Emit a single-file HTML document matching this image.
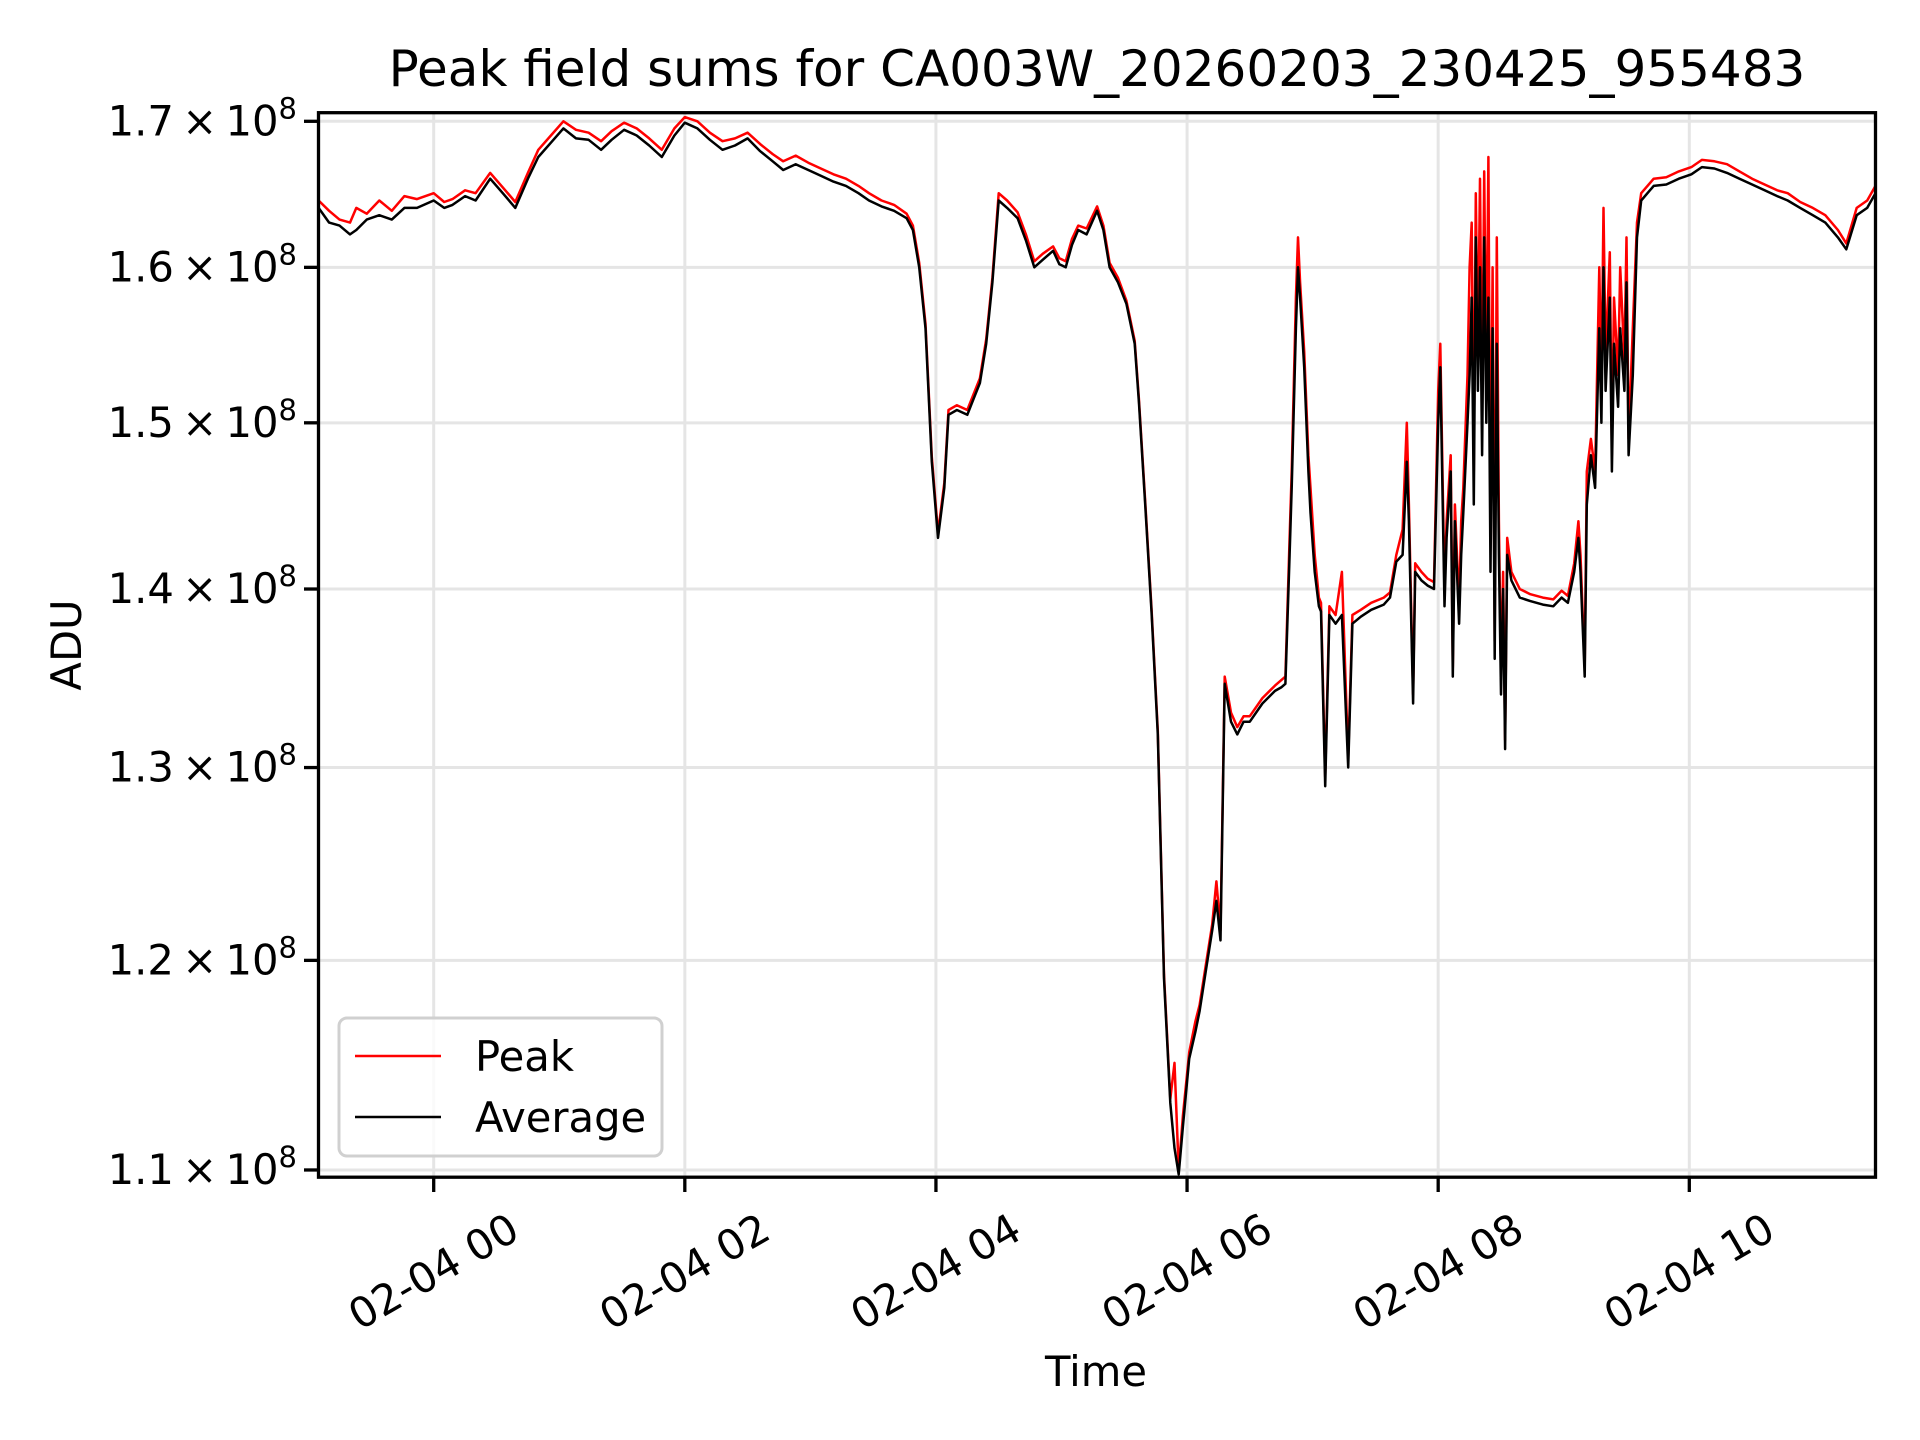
<!DOCTYPE html>
<html><head><meta charset="utf-8"><style>
html,body{margin:0;padding:0;background:#fff;}
svg{display:block;font-family:"DejaVu Sans","Liberation Sans",sans-serif;}
</style></head><body>
<svg id="chart" width="1920" height="1440" viewBox="0 0 1920 1440" xmlns="http://www.w3.org/2000/svg">
<rect width="1920" height="1440" fill="#fff"/>
<defs><clipPath id="plotclip"><rect x="318.5" y="112.7" width="1557" height="1064.5"/></clipPath></defs>
<g id="grid"></g>
<g id="series" clip-path="url(#plotclip)"></g>
<rect x="318.5" y="112.7" width="1557" height="1064.5" fill="none" stroke="#000" stroke-width="3.3"/>
<g id="ticks"></g>
<text x="1097" y="86" font-size="50" text-anchor="middle">Peak field sums for CA003W_20260203_230425_955483</text>
<text x="0" y="0" font-size="41.7" text-anchor="middle" transform="translate(81,645) rotate(-90)">ADU</text>
<text x="1096" y="1386" font-size="41.7" text-anchor="middle">Time</text>
<g>
<rect x="339" y="1018" width="323" height="138" rx="8" fill="#fff" fill-opacity="0.8" stroke="#d0d0d0" stroke-width="3"/>
<line x1="355" y1="1056" x2="441" y2="1056" stroke="#ff0000" stroke-width="2.5"/>
<text x="475" y="1071" font-size="41.7">Peak</text>
<line x1="355" y1="1117" x2="441" y2="1117" stroke="#000" stroke-width="2.5"/>
<text x="475" y="1132" font-size="41.7">Average</text>
</g>
</svg>
<script>
// minutes since 02-04 00:00
const times = [-55,-50,-45,-40,-37,-32,-26,-20,-14,-8,0,5,9,15,20,27,33,39,45,50,56,62,68,74,80,85,91,97,103,109,115,120,126,132,138,144,150,156,162,167,173,179,185,191,197,203,208,214,220,226,229,232,235,238,241,244,246,250,255,258,261,264,267,270,274,279,283,287,291,296,299,302,305,308,312,317,320,323,327,331,335,337,340,343,346,349,352,354,356,358,361,364,366,369,372,374,376,378,381,384,387,390,396,402,405,407,409,410,412,413,414,416,418,419,421,423,424,426,428,431,434,437,439,443,448,454,457,460,463,465,466,468,469,472,475,478,480,481,483,484,486,487,488,490,491,492,494,495,496,497,498,499,500,501,502,503,504,505,506,507,508,509,510,511,512,513,515,519,524,530,535,539,542,545,547,548,550,551,553,555,557,558,559,560,562,563,564,566,567,569,570,571,573,575,577,583,589,595,601,606,612,618,624,630,636,642,647,653,659,665,671,675,680,685,689];
// values in units of 1e8 ADU
const averageValues = [1.640,1.630,1.628,1.622,1.625,1.632,1.635,1.632,1.640,1.640,1.645,1.640,1.642,1.648,1.645,1.660,1.650,1.640,1.660,1.675,1.685,1.695,1.688,1.687,1.680,1.687,1.694,1.690,1.683,1.675,1.690,1.699,1.695,1.687,1.680,1.683,1.688,1.679,1.672,1.666,1.670,1.666,1.662,1.658,1.655,1.650,1.645,1.641,1.638,1.633,1.625,1.600,1.560,1.476,1.430,1.460,1.505,1.508,1.505,1.515,1.525,1.550,1.590,1.645,1.640,1.633,1.618,1.600,1.605,1.611,1.602,1.600,1.615,1.625,1.622,1.638,1.625,1.600,1.590,1.576,1.550,1.513,1.450,1.387,1.318,1.191,1.131,1.110,1.098,1.120,1.152,1.165,1.175,1.195,1.215,1.230,1.210,1.346,1.325,1.318,1.325,1.325,1.335,1.342,1.344,1.346,1.420,1.460,1.560,1.600,1.580,1.535,1.470,1.445,1.410,1.390,1.387,1.290,1.385,1.380,1.385,1.300,1.380,1.384,1.388,1.391,1.395,1.416,1.420,1.476,1.440,1.335,1.410,1.405,1.402,1.400,1.500,1.535,1.390,1.430,1.470,1.350,1.440,1.380,1.420,1.445,1.500,1.530,1.580,1.450,1.620,1.520,1.600,1.480,1.620,1.500,1.580,1.410,1.560,1.360,1.550,1.420,1.340,1.400,1.310,1.420,1.405,1.395,1.393,1.391,1.390,1.395,1.392,1.410,1.430,1.410,1.350,1.450,1.480,1.460,1.560,1.500,1.600,1.520,1.580,1.470,1.550,1.510,1.560,1.520,1.590,1.480,1.530,1.620,1.645,1.655,1.656,1.660,1.663,1.668,1.667,1.664,1.660,1.656,1.652,1.648,1.645,1.640,1.635,1.630,1.620,1.612,1.635,1.640,1.650];
const peakValues = [1.645,1.638,1.632,1.630,1.640,1.636,1.645,1.638,1.648,1.646,1.650,1.644,1.646,1.652,1.650,1.664,1.654,1.644,1.664,1.680,1.690,1.700,1.694,1.692,1.686,1.693,1.699,1.695,1.688,1.680,1.695,1.703,1.700,1.692,1.686,1.688,1.692,1.684,1.677,1.672,1.676,1.671,1.667,1.663,1.660,1.655,1.650,1.645,1.642,1.636,1.628,1.603,1.563,1.479,1.433,1.463,1.508,1.511,1.508,1.518,1.528,1.553,1.593,1.650,1.645,1.637,1.622,1.604,1.609,1.614,1.606,1.604,1.619,1.628,1.626,1.641,1.628,1.603,1.593,1.578,1.552,1.515,1.452,1.389,1.320,1.193,1.133,1.150,1.100,1.125,1.155,1.170,1.178,1.198,1.218,1.240,1.215,1.350,1.330,1.322,1.328,1.328,1.338,1.345,1.348,1.350,1.430,1.470,1.580,1.620,1.590,1.545,1.480,1.460,1.420,1.395,1.392,1.295,1.390,1.385,1.410,1.305,1.385,1.388,1.392,1.395,1.398,1.420,1.435,1.500,1.450,1.340,1.415,1.410,1.406,1.404,1.520,1.550,1.400,1.440,1.480,1.355,1.450,1.390,1.440,1.460,1.530,1.600,1.630,1.470,1.650,1.540,1.660,1.500,1.665,1.520,1.675,1.430,1.600,1.370,1.620,1.440,1.350,1.410,1.315,1.430,1.410,1.400,1.397,1.395,1.394,1.399,1.396,1.415,1.440,1.420,1.355,1.470,1.490,1.470,1.600,1.520,1.640,1.540,1.610,1.480,1.580,1.530,1.600,1.540,1.620,1.490,1.560,1.630,1.650,1.660,1.661,1.665,1.668,1.673,1.672,1.670,1.665,1.660,1.656,1.652,1.650,1.644,1.640,1.635,1.625,1.616,1.640,1.645,1.655];
const yTickValues = [1.1,1.2,1.3,1.4,1.5,1.6,1.7];
const yTickLabels = ["1.1","1.2","1.3","1.4","1.5","1.6","1.7"];
const xTickMinutes = [0,120,240,360,480,600];
const xTickLabels = ["02-04 00","02-04 02","02-04 04","02-04 06","02-04 08","02-04 10"];

const NS = "http://www.w3.org/2000/svg";
function xScale(m){ return 433.7 + m/60*125.56; }
function yScale(v){ return 121.3 - Math.log(v/1.7)*2409; }
function mk(tag, attrs, parent){ const e=document.createElementNS(NS,tag); for(const k in attrs) e.setAttribute(k,attrs[k]); parent.appendChild(e); return e; }

const grid=document.getElementById('grid'), ticks=document.getElementById('ticks'), series=document.getElementById('series');
yTickValues.forEach((v,i)=>{
  const y=yScale(v);
  const g=mk('line',{x1:318.5,x2:1875.5,y1:y,y2:y,stroke:'#e5e5e5','stroke-width':3},grid);
  
  
  const t=mk('line',{x1:304,x2:318.5,y1:y,y2:y,stroke:'#000','stroke-width':3.3},ticks);
  
  
  const tx=mk('text',{x:297,y:y+14,'font-size':41.7,'text-anchor':'end'},ticks);
  
  
  tx.textContent=yTickLabels[i]+"\u2009\u00d7\u200910";
  const sup=mk('tspan',{dy:-17,'font-size':29},tx);
  sup.textContent="8";
});
xTickMinutes.forEach((m,i)=>{
  const x=xScale(m);
  const g=mk('line',{x1:x,x2:x,y1:112.7,y2:1177,stroke:'#e5e5e5','stroke-width':3},grid);
  
  
  const t=mk('line',{x1:x,x2:x,y1:1177,y2:1192,stroke:'#000','stroke-width':3.3},ticks);
  
  
  const tx=mk('text',{x:0,y:14,'font-size':41.7,'text-anchor':'middle',transform:`translate(${x},1272) rotate(-30)`},ticks);
  
  
  tx.textContent=xTickLabels[i];
});
function pathFor(vals){ return vals.map((v,i)=>(i?'L':'M')+xScale(times[i]).toFixed(1)+','+yScale(v).toFixed(1)).join(''); }
const pk=mk('path',{d:pathFor(peakValues),fill:'none',stroke:'#ff0000','stroke-width':2.5,'stroke-linejoin':'round'},series);


const av=mk('path',{d:pathFor(averageValues),fill:'none',stroke:'#000','stroke-width':2.5,'stroke-linejoin':'round'},series);


</script>
</body></html>
